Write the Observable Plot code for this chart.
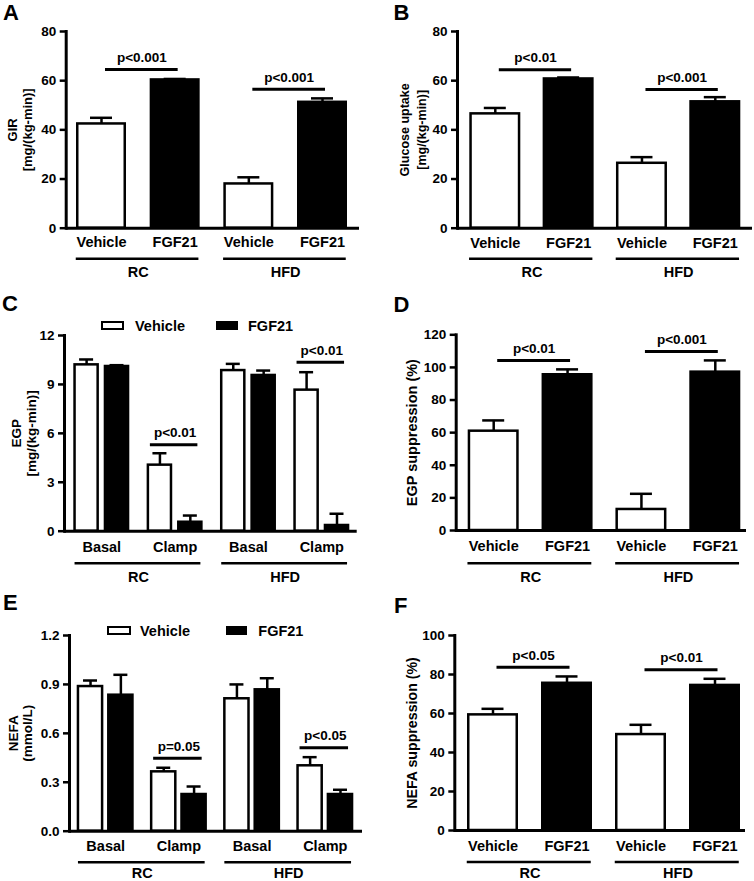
<!DOCTYPE html>
<html>
<head>
<meta charset="utf-8">
<script src="https://cdn.jsdelivr.net/npm/d3@7"></script>
<script src="https://cdn.jsdelivr.net/npm/@observablehq/plot@0.6"></script>
<style>
  html, body { margin: 0; padding: 0; background: #fff; }
  #fig { position: relative; width: 754px; height: 881px; overflow: hidden;
         font-family: "Liberation Sans", Arial, Helvetica, sans-serif; font-weight: bold; color: #000; }
  .panel { position: absolute; width: 377px; }
  .panel svg { display: block; overflow: visible; }
  .letter { position: absolute; font-size: 22px; line-height: 22px; font-weight: bold; }
  .lg-box { position: absolute; box-sizing: border-box; border: 2.5px solid #000; }
  .lg-text { position: absolute; font-size: 14.5px; line-height: 16px; font-weight: bold; white-space: nowrap; }
</style>
</head>
<body>
<div id="fig"></div>
<script>
// ---------------- data ----------------
const diets = ["RC", "HFD"];
const treatments = ["Vehicle", "FGF21"];
const phases = ["Basal", "Clamp"];
const panelLetters = ["A", "B", "C", "D", "E", "F"];

// A: GIR  (order: RC-Vehicle, RC-FGF21, HFD-Vehicle, HFD-FGF21)
const girMean = [42.4, 60.3, 18.0, 51.2];
const girSem = [2.5, 0.4, 2.7, 1.6];
const girTicks = [0, 20, 40, 60, 80];
const girPText = ["p<0.001", "p<0.001"];
const girPY = [64.5, 56.5];

// B: Glucose uptake
const guMean = [46.5, 60.7, 26.4, 51.4];
const guSem = [2.4, 0.6, 2.5, 1.9];
const guTicks = [0, 20, 40, 60, 80];
const guPText = ["p<0.01", "p<0.001"];
const guPY = [64.4, 56.4];

// C: EGP (order: RC-Basal, RC-Clamp, HFD-Basal, HFD-Clamp)
const egpVehMean = [10.2, 4.05, 9.85, 8.65];
const egpVehSem = [0.33, 0.73, 0.41, 1.1];
const egpFgfMean = [10.1, 0.55, 9.55, 0.35];
const egpFgfSem = [0.08, 0.41, 0.30, 0.72];
const egpTicks = [0, 3, 6, 9, 12];
const egpPText = ["p<0.01", "p<0.01"];   // RC-Clamp, HFD-Clamp
const egpPY = [5.3, 10.36];

// D: EGP suppression (%)
const egpSupMean = [60.9, 95.5, 12.9, 97.1];
const egpSupSem = [6.6, 3.3, 9.6, 7.2];
const egpSupTicks = [0, 20, 40, 60, 80, 100, 120];
const egpSupPText = ["p<0.01", "p<0.001"];
const egpSupPY = [104.3, 109.8];

// E: NEFA (mmol/L)
const nefaVehMean = [0.887, 0.364, 0.812, 0.401];
const nefaVehSem = [0.037, 0.025, 0.088, 0.053];
const nefaFgfMean = [0.834, 0.225, 0.867, 0.225];
const nefaFgfSem = [0.125, 0.049, 0.071, 0.029];
const nefaTicks = [0, 0.3, 0.6, 0.9, 1.2];
const nefaPText = ["p=0.05", "p<0.05"];
const nefaPY = [0.448, 0.511];

// F: NEFA suppression (%)
const nefaSupMean = [59.3, 75.5, 49.2, 74.4];
const nefaSupSem = [3.1, 3.5, 5.0, 3.4];
const nefaSupTicks = [0, 20, 40, 60, 80, 100];
const nefaSupPText = ["p<0.05", "p<0.01"];
const nefaSupPY = [83.7, 82.4];

// ---------------- layout (pixels) ----------------
const W = 377;
const SW = 2.5; // stroke width of bars
const layouts = {
  A: {left: 0,   top: 0,   height: 290, ml: 65.7, xr: 359, mt: 31,   mb: 62.3, b0: 76,   b1: 347,   w: 50, tp: 9,  ul: 30.6, gl: 39,   ldx: -46.4, lfs: 13,   llh: 1.18},
  B: {left: 377, top: 0,   height: 290, ml: 80,   xr: 375, mt: 31,   mb: 62.3, b0: 92.3, b1: 363.3, w: 51, tp: 9.5, ul: 30.6, gl: 39,  ldx: -45.3, lfs: 12.5, llh: 1.3},
  C: {left: 0,   top: 290, height: 300, ml: 64,   xr: 356.7, mt: 45, mb: 59.3, b0: 73.3, b1: 349.3, w: 56, tp: 10.3, ul: 32, gl: 40.3, ldx: -40.5, lfs: 13.5, llh: 1.12, gap: 4.8},
  D: {left: 377, top: 290, height: 300, ml: 78.7, xr: 369, mt: 44.3, mb: 60,   b0: 90.7, b1: 363.3, w: 51, tp: 10.5, ul: 32.7, gl: 41, ldx: -43.7, lfs: 14.5, llh: 1},
  E: {left: 0,   top: 590, height: 291, ml: 69,   xr: 362, mt: 45,   mb: 50.3, b0: 76.7, b1: 353.3, w: 57, tp: 10,  ul: 31,   gl: 37,   ldx: -49.4, lfs: 13.5, llh: 1.05, gap: 3.7},
  F: {left: 377, top: 590, height: 291, ml: 77.3, xr: 368, mt: 45,   mb: 51,   b0: 90,   b1: 363,   w: 51, tp: 10.5, ul: 31.5, gl: 37, ldx: -42.3, lfs: 14.2, llh: 1}
};
// letter offsets relative to each panel's top-left corner
const letterPos = {A: [3, 2], B: [16.5, 2], C: [2, 3], D: [16.5, 4], E: [3, 2], F: [17, 5]};
const legendPos = {
  C: {y: 325.7, boxes: [101, 216], boxW: [23.3, 22], texts: [135, 248]},
  E: {y: 630.7, boxes: [107.3, 225.7], boxW: [23.7, 21.6], texts: [140, 258.3]}
};

// band scale options derived from measured bar layout
function bandScale(L, keys) {
  const n = keys.length;
  const w = L.w - SW, b0 = L.b0 + SW / 2, b1 = L.b1 - SW / 2;
  const step = (b1 - b0 - w) / (n - 1);
  const pi = 1 - w / step;
  const range = L.xr - L.ml;
  const po = (range / step - (n - pi)) / 2;
  const free = range - step * (n - pi);
  const align = Math.max(0, Math.min(1, (b0 - L.ml) / free));
  const s = d3.scaleBand().domain(keys).range([L.ml, L.xr]).paddingInner(pi).paddingOuter(po).align(align);
  return {
    x: {type: "band", domain: keys, paddingInner: pi, paddingOuter: po, align, round: false},
    bw: s.bandwidth(), step: s.step()
  };
}

const baseStyle = {fontFamily: '"Liberation Sans", Arial, Helvetica, sans-serif', fontWeight: "bold", fontSize: "13px", background: "white", overflow: "visible"};

function commonAxes(L, ticks, tickFormat, label) {
  return [
    Plot.ruleY([0], {strokeWidth: 3}),
    Plot.frame({anchor: "left", strokeWidth: 3}),
    Plot.axisY({ticks, tickSize: 6, tickPadding: 4, strokeWidth: 2.5, fontSize: 13.5, tickFormat, label: null}),
    Plot.text([label], {frameAnchor: "left", rotate: -90, text: d => d, textAnchor: "middle", lineAnchor: "middle",
      dx: L.ldx, fontSize: L.lfs, lineHeight: L.llh})
  ];
}

function barPanel(L, mean, sem, ticks, pText, pY, label) {
  const keys = diets.flatMap(d => treatments.map(t => `${d}|${t}`));
  const rows = keys.map((key, i) => ({key, diet: key.split("|")[0], treatment: key.split("|")[1], mean: mean[i], sem: sem[i]}));
  const sig = diets.map((d, i) => ({diet: d, text: pText[i], y: pY[i]}));
  const {x, bw, step} = bandScale(L, keys);
  const cap = 22;
  return Plot.plot({
    width: W, height: L.height,
    marginLeft: L.ml, marginRight: W - L.xr, marginTop: L.mt, marginBottom: L.mb,
    x, y: {domain: [0, ticks[ticks.length - 1]]},
    style: baseStyle,
    marks: [
      Plot.barY(rows.filter(r => r.treatment === "Vehicle"), {x: "key", y: "mean", fill: "white", stroke: "black", strokeWidth: SW}),
      Plot.barY(rows.filter(r => r.treatment === "FGF21"), {x: "key", y: "mean", fill: "black", stroke: "black", strokeWidth: SW}),
      Plot.ruleX(rows, {x: "key", y1: "mean", y2: r => r.mean + r.sem, strokeWidth: 2.5}),
      Plot.tickY(rows, {x: "key", y: r => r.mean + r.sem, strokeWidth: 2.5, insetLeft: (bw - cap) / 2, insetRight: (bw - cap) / 2}),
      ...commonAxes(L, ticks, d3.format("d"), label),
      Plot.axisX({tickSize: 0, tickPadding: L.tp, fontSize: 14.5, tickFormat: k => k.split("|")[1], label: null}),
      Plot.ruleY(diets, {x1: d => `${d}|Vehicle`, x2: d => `${d}|FGF21`, y: () => 0, dy: L.ul, strokeWidth: 2.6, insetLeft: -1.5, insetRight: 0}),
      Plot.text(diets, {x: d => `${d}|Vehicle`, y: () => 0, text: d => d, dx: step / 2, dy: L.gl, lineAnchor: "top", fontSize: 14.5}),
      Plot.ruleY(sig, {x1: s => `${s.diet}|Vehicle`, x2: s => `${s.diet}|FGF21`, y: "y", insetLeft: bw / 2 + 4, insetRight: bw / 2 - 3, strokeWidth: 3}),
      Plot.text(sig, {x: s => `${s.diet}|Vehicle`, y: "y", text: "text", dx: step / 2 + 3.5, dy: -17, lineAnchor: "top", fontSize: 13.5})
    ]
  });
}

function groupedPanel(L, vMean, vSem, fMean, fSem, ticks, tickFormat, pText, pY, label) {
  const keys = diets.flatMap(d => phases.map(p => `${d}|${p}`));
  const veh = keys.map((key, i) => ({key, mean: vMean[i], sem: vSem[i]}));
  const fgf = keys.map((key, i) => ({key, mean: fMean[i], sem: fSem[i]}));
  const sig = diets.map((d, i) => ({key: `${d}|Clamp`, text: pText[i], y: pY[i]}));
  const {x, bw, step} = bandScale(L, keys);
  const g = L.gap + SW;             // geometric gap between the two rects
  const half = bw / 2 + g / 2;      // inset to keep one half
  const off = bw / 4 + g / 4;       // offset of sub-bar centre from band centre
  const cap = 14;
  const capInset = (bw - cap) / 2;
  return Plot.plot({
    width: W, height: L.height,
    marginLeft: L.ml, marginRight: W - L.xr, marginTop: L.mt, marginBottom: L.mb,
    x, y: {domain: [0, ticks[ticks.length - 1]]},
    style: baseStyle,
    marks: [
      Plot.barY(veh, {x: "key", y: "mean", fill: "white", stroke: "black", strokeWidth: SW, insetRight: half}),
      Plot.barY(fgf, {x: "key", y: "mean", fill: "black", stroke: "black", strokeWidth: SW, insetLeft: half}),
      Plot.ruleX(veh, {x: "key", y1: "mean", y2: r => r.mean + r.sem, strokeWidth: 2.5, dx: -off}),
      Plot.ruleX(fgf, {x: "key", y1: "mean", y2: r => r.mean + r.sem, strokeWidth: 2.5, dx: off}),
      Plot.tickY(veh, {x: "key", y: r => r.mean + r.sem, strokeWidth: 2.5, insetLeft: capInset, insetRight: capInset, dx: -off}),
      Plot.tickY(fgf, {x: "key", y: r => r.mean + r.sem, strokeWidth: 2.5, insetLeft: capInset, insetRight: capInset, dx: off}),
      ...commonAxes(L, ticks, tickFormat, label),
      Plot.axisX({tickSize: 0, tickPadding: L.tp, fontSize: 14.5, tickFormat: k => k.split("|")[1], label: null}),
      Plot.ruleY(diets, {x1: d => `${d}|Basal`, x2: d => `${d}|Clamp`, y: () => 0, dy: L.ul, strokeWidth: 2.6, insetLeft: 0, insetRight: 1}),
      Plot.text(diets, {x: d => `${d}|Basal`, y: () => 0, text: d => d, dx: step / 2, dy: L.gl, lineAnchor: "top", fontSize: 14.5}),
      Plot.ruleY(sig, {x1: "key", x2: "key", y: "y", insetLeft: 2, insetRight: 4, strokeWidth: 3}),
      Plot.text(sig, {x: "key", y: "y", text: "text", dy: -17, lineAnchor: "top", fontSize: 13.5})
    ]
  });
}

// ---------------- build ----------------
const fig = document.getElementById("fig");
const charts = {
  A: barPanel(layouts.A, girMean, girSem, girTicks, girPText, girPY, "GIR\n[mg/(kg-min)]"),
  B: barPanel(layouts.B, guMean, guSem, guTicks, guPText, guPY, "Glucose uptake\n[mg/(kg-min)]"),
  C: groupedPanel(layouts.C, egpVehMean, egpVehSem, egpFgfMean, egpFgfSem, egpTicks, d3.format("d"), egpPText, egpPY, "EGP\n[mg/(kg-min)]"),
  D: barPanel(layouts.D, egpSupMean, egpSupSem, egpSupTicks, egpSupPText, egpSupPY, "EGP suppression (%)"),
  E: groupedPanel(layouts.E, nefaVehMean, nefaVehSem, nefaFgfMean, nefaFgfSem, nefaTicks, d3.format(".1f"), nefaPText, nefaPY, "NEFA\n(mmol/L)"),
  F: barPanel(layouts.F, nefaSupMean, nefaSupSem, nefaSupTicks, nefaSupPText, nefaSupPY, "NEFA suppression (%)")
};
for (const k of panelLetters) {
  const L = layouts[k];
  const div = document.createElement("div");
  div.className = "panel";
  div.style.left = L.left + "px";
  div.style.top = L.top + "px";
  div.appendChild(charts[k]);
  fig.appendChild(div);
  const letter = document.createElement("div");
  letter.className = "letter";
  letter.textContent = k;
  letter.style.left = (L.left + letterPos[k][0]) + "px";
  letter.style.top = (L.top + letterPos[k][1]) + "px";
  fig.appendChild(letter);
}
// legends for C and E
const legendFill = ["white", "black"];
for (const k of ["C", "E"]) {
  const P = legendPos[k];
  treatments.forEach((t, i) => {
    const box = document.createElement("div");
    box.className = "lg-box";
    box.style.left = P.boxes[i] + "px";
    box.style.top = (P.y - 4.75) + "px";
    box.style.width = P.boxW[i] + "px";
    box.style.height = "9.5px";
    box.style.background = legendFill[i];
    fig.appendChild(box);
    const tx = document.createElement("div");
    tx.className = "lg-text";
    tx.textContent = t;
    tx.style.left = P.texts[i] + "px";
    tx.style.top = (P.y - 8) + "px";
    fig.appendChild(tx);
  });
}
</script>
</body>
</html>
